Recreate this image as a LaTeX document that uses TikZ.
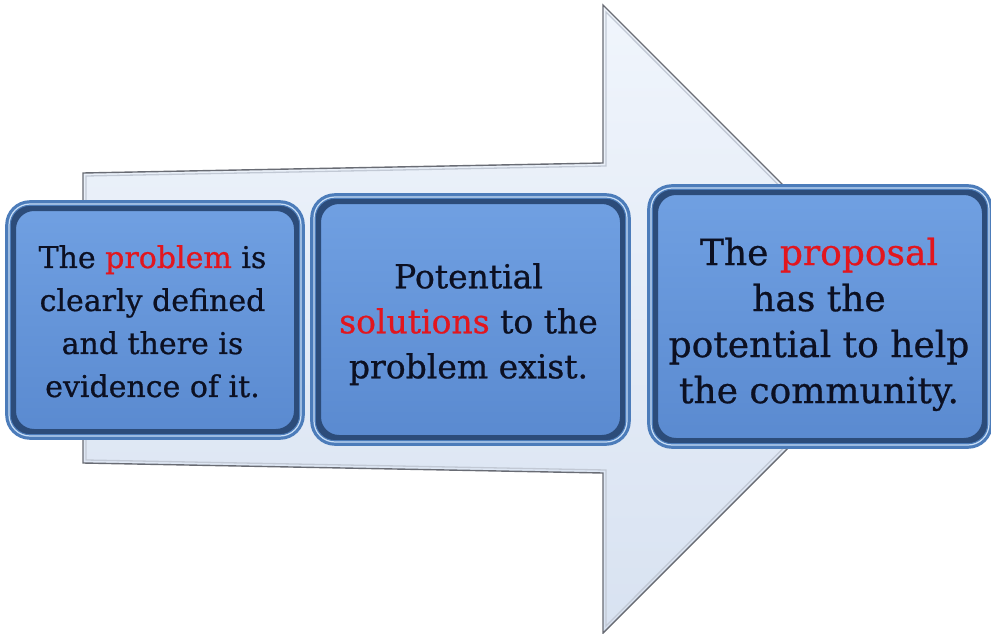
\documentclass[tikz,border=0pt]{standalone}
\usepackage{fontspec}
\setmainfont{DejaVu Serif}[BoldFont=DejaVu Serif, BoldFeatures={FakeBold=0.7}]
\usetikzlibrary{shadows}
\definecolor{boxtop}{RGB}{112,160,226}
\definecolor{boxbot}{RGB}{90,138,208}
\definecolor{boxedge}{RGB}{76,124,186}
\definecolor{boxdark}{RGB}{44,76,122}
\definecolor{boxhi}{RGB}{200,222,246}
\definecolor{arrtop}{RGB}{240,245,252}
\definecolor{arrbot}{RGB}{216,226,241}
\definecolor{arredge}{RGB}{105,108,116}
\definecolor{hot}{RGB}{226,22,30}
\definecolor{ink}{RGB}{12,16,34}
\tikzset{
  arrowbody/.style={top color=arrtop, bottom color=arrbot, draw=arredge, line width=1.4pt, line join=miter},
  arrowinner/.style={draw=arrbot!75!gray, line width=1.3pt},
  bx/.style={rounded corners=22pt, top color=boxtop, bottom color=boxbot, draw=boxdark, line width=8pt,
     drop shadow={shadow xshift=3pt, shadow yshift=-4pt, opacity=0.35}, inner sep=0pt},
  bxmid/.style={rounded corners=22pt, draw=boxedge, line width=5.6pt},
  bxhi/.style={rounded corners=21pt, draw=boxhi, line width=1.2pt},
  txt/.style={align=center, text=ink, anchor=north, inner sep=0pt}
}
\newcommand{\hot}[1]{\textcolor{hot}{#1}}
\begin{document}
\begin{tikzpicture}[x=1pt,y=-1pt]
\useasboundingbox (0,0) rectangle (991,634);
\path[arrowbody] (83,173) -- (603,163) -- (603,5) -- (917,319) -- (603,633) -- (603,473) -- (83,463) -- cycle;
\path[arrowinner] (86,176) -- (606,166) -- (606,12) -- (912,319) -- (606,626) -- (606,470) -- (86,460) -- cycle;

\node[bx, minimum width=286pt, minimum height=226pt] (b1) at (155,320) {};
\node[bx, minimum width=307pt, minimum height=239pt] (b2) at (470.5,319.5) {};
\node[bx, minimum width=332pt, minimum height=251pt] (b3) at (820,316.5) {};
\foreach \n in {b1,b2,b3}{
  \draw[bxmid] (\n.north west) rectangle (\n.south east);
  \draw[bxhi] ([shift={(1pt,-1pt)}]\n.north west) rectangle ([shift={(-1pt,1pt)}]\n.south east);
}
\node[txt, font=\fontsize{30}{43}\selectfont\bfseries] (t1) at (152.5,245) {The \hot{problem} is\\clearly defined\\and there is\\evidence of it.};
\node[txt, font=\fontsize{33}{45}\selectfont\bfseries] (t2) at (468.5,263) {Potential\\\hot{solutions} to the\\problem exist.};
\node[txt, font=\fontsize{36}{46}\selectfont\bfseries] (t3) at (819,237.5) {The \hot{proposal}\\has the\\potential to help\\the community.};
\end{tikzpicture}
\end{document}
